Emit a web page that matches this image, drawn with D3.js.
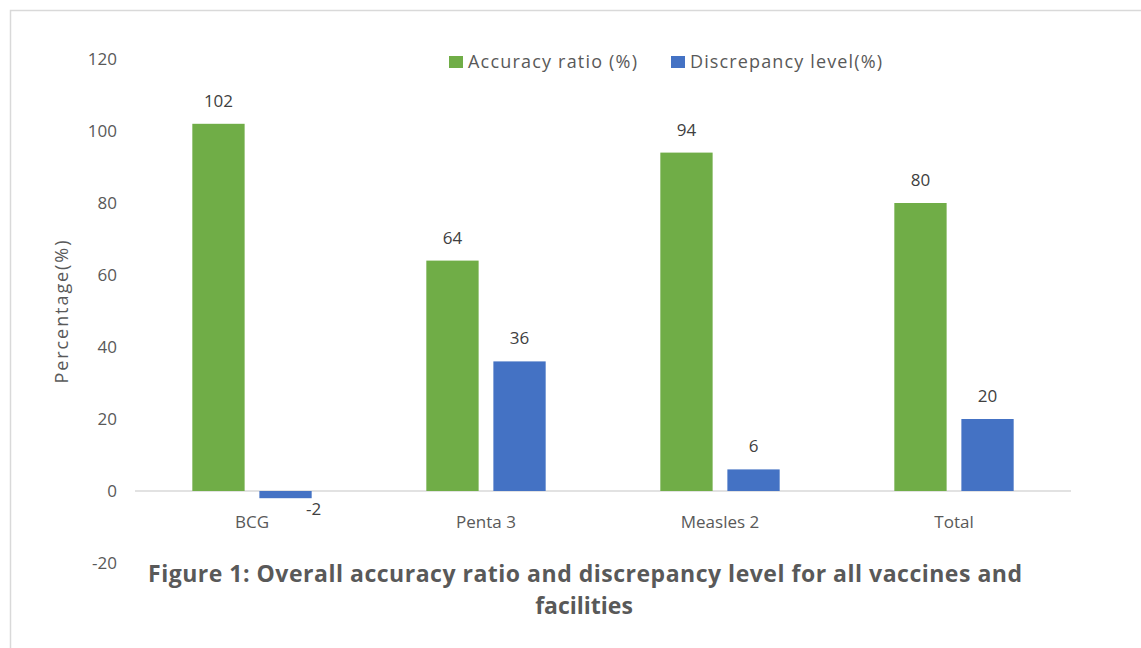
<!DOCTYPE html>
<html>
<head>
<meta charset="utf-8">
<script src="https://cdn.jsdelivr.net/npm/d3@7/dist/d3.min.js"></script>
<style>
  html, body { margin: 0; padding: 0; background: #fff; }
  svg { display: block; }
  text { font-family: "Open Sans", "Noto Sans", sans-serif; }
</style>
</head>
<body>
<svg id="chart" width="1141" height="648"></svg>
<script>
// Vaccination data-quality summary
const categories = ["BCG", "Penta 3", "Measles 2", "Total"];
const seriesNames = ["Accuracy ratio (%)", "Discrepancy level(%)"];
const accuracyRatio = [102, 64, 94, 80];
const discrepancyLevel = [-2, 36, 6, 20];
const yTicks = [-20, 0, 20, 40, 60, 80, 100, 120];
const seriesColors = ["#70AD47", "#4472C4"];

const svg = d3.select("#chart");
const W = 1141, H = 648;

// outer frame (top and left edges visible)
svg.append("rect").attr("x", 0).attr("y", 0).attr("width", W).attr("height", H).attr("fill", "#fff");
svg.append("path")
  .attr("d", `M10.5,${H} V10.5 H${W}`)
  .attr("fill", "none").attr("stroke", "#d9d9d9").attr("stroke-width", 1.5);

const plot = { left: 135, right: 1071 };
const y = d3.scaleLinear().domain([-20, 120]).range([563, 59]);

const x0 = d3.scaleBand().domain(categories).range([plot.left, plot.right])
  .paddingInner(0.49).paddingOuter(0.245);
const x1 = d3.scaleBand().domain(seriesNames).range([0, x0.bandwidth()]).paddingInner(0.22);

const rows = categories.map((c, i) => ({
  cat: c,
  vals: [
    { s: seriesNames[0], v: accuracyRatio[i], color: seriesColors[0] },
    { s: seriesNames[1], v: discrepancyLevel[i], color: seriesColors[1] }
  ]
}));

// y axis tick labels (no line)
const yAxis = d3.axisLeft(y).tickValues(yTicks).tickSize(0).tickPadding(0)
  .tickFormat(d => String(d));
const gy = svg.append("g").attr("transform", `translate(117,0)`).call(yAxis);
gy.select(".domain").remove();
gy.selectAll("text").attr("font-size", 17).attr("fill", "#595959")
  .attr("font-family", "'Open Sans', sans-serif");

// baseline at zero
svg.append("line")
  .attr("x1", plot.left).attr("x2", plot.right)
  .attr("y1", y(0)).attr("y2", y(0))
  .attr("stroke", "#d9d9d9").attr("stroke-width", 1.5);

// bars
const groups = svg.append("g").selectAll("g").data(rows).join("g")
  .attr("transform", d => `translate(${x0(d.cat)},0)`);

groups.selectAll("rect").data(d => d.vals).join("rect")
  .attr("x", d => x1(d.s))
  .attr("width", x1.bandwidth())
  .attr("y", d => y(Math.max(0, d.v)))
  .attr("height", d => Math.abs(y(d.v) - y(0)))
  .attr("fill", d => d.color);

// value labels
groups.selectAll("text.val").data(d => d.vals).join("text")
  .attr("class", "val")
  .attr("x", d => x1(d.s) + x1.bandwidth() / 2 + (d.v < 0 ? 28 : 0))
  .attr("y", d => d.v < 0 ? y(d.v) + 17 : y(d.v) - 17)
  .attr("text-anchor", "middle")
  .attr("font-size", 17)
  .attr("fill", "#404040")
  .text(d => String(d.v));

// category labels
const xAxis = d3.axisBottom(x0).tickSize(0).tickPadding(0);
const gx = svg.append("g").attr("transform", `translate(0,${y(0) + 37})`).call(xAxis);
gx.select(".domain").remove();
gx.selectAll("text").attr("font-size", 17).attr("fill", "#595959")
  .attr("font-family", "'Open Sans', sans-serif").attr("dy", 0);

// y axis title
svg.append("text")
  .attr("transform", `translate(68,312) rotate(-90)`)
  .attr("text-anchor", "middle")
  .attr("font-size", 18).attr("fill", "#595959")
  .attr("textLength", 143).attr("lengthAdjust", "spacing")
  .text("Percentage(%)");

// legend
const legend = svg.append("g");
const legendItems = [
  { name: seriesNames[0], color: seriesColors[0], x: 449, len: 169 },
  { name: seriesNames[1], color: seriesColors[1], x: 671, len: 192 }
];
legendItems.forEach(it => {
  legend.append("rect").attr("x", it.x).attr("y", 56).attr("width", 14).attr("height", 12).attr("fill", it.color);
  legend.append("text").attr("x", it.x + 19).attr("y", 68)
    .attr("font-size", 18).attr("fill", "#595959")
    .attr("textLength", it.len).attr("lengthAdjust", "spacing")
    .text(it.name);
});

// figure caption
const caption = svg.append("text")
  .attr("font-size", 23).attr("font-weight", "bold").attr("fill", "#595959");
caption.append("tspan").attr("x", 148).attr("y", 582)
  .attr("textLength", 874).attr("lengthAdjust", "spacing")
  .text("Figure 1: Overall accuracy ratio and discrepancy level for all vaccines and");
caption.append("tspan").attr("x", 584).attr("y", 614).attr("text-anchor", "middle")
  .text("facilities");
</script>
</body>
</html>
